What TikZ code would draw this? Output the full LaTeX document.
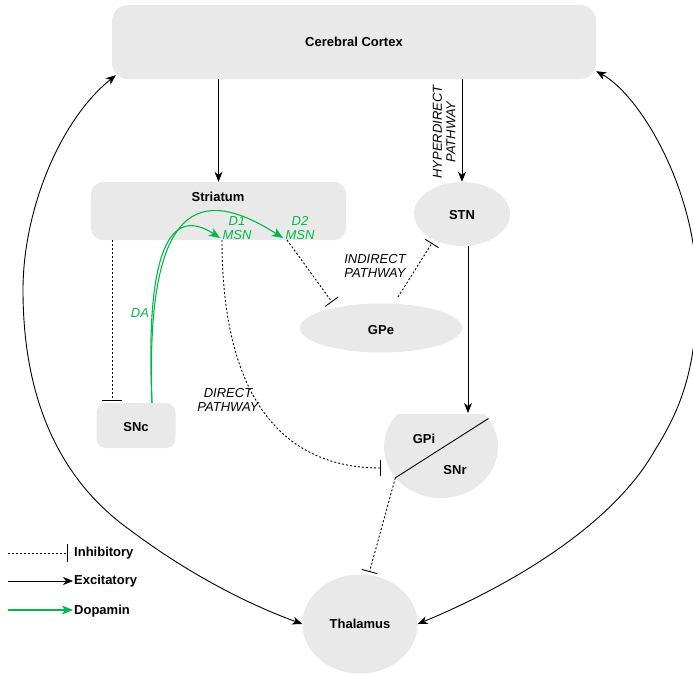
\documentclass[tikz,border=0pt]{standalone}
\usepackage{fontspec}
\setmainfont{Liberation Sans}
\usetikzlibrary{arrows.meta,shapes.geometric}
\definecolor{boxfill}{RGB}{233,233,233}
\definecolor{dagreen}{RGB}{0,184,74}
\begin{document}
\begin{tikzpicture}[x=1pt,y=-1pt,
  every node/.style={font=\fontsize{13}{14}\selectfont},
  area/.style={fill=boxfill, draw=none, inner sep=0pt},
  lbl/.style={font=\fontsize{13}{14}\selectfont\bfseries, inner sep=1pt},
  pathlbl/.style={font=\fontsize{13}{13.5}\selectfont\itshape, align=center, inner sep=1pt},
  greenlbl/.style={pathlbl, text=dagreen},
  tipx/.tip={Stealth[length=10pt,width=8pt,inset=3pt]},
  exc/.style={draw=black, line width=0.9pt, -tipx},
  excboth/.style={draw=black, line width=0.9pt, tipx-tipx},
  inh/.style={draw=black, line width=0.9pt, dash pattern=on 2pt off 2pt, -{Bar[width=16pt]}},
  dop/.style={draw=dagreen, line width=1.1pt, -{Stealth[length=11pt,width=9pt,inset=3pt]}},
  thinline/.style={draw=black, line width=0.9pt}
]
\useasboundingbox (0,0) rectangle (693,675);

% ---- areas ----
\node[area, rounded corners=16pt, minimum width=484pt, minimum height=74pt] (cortex) at (354,42) {};
\node[lbl] (cortexlbl) at (354,42) {Cerebral Cortex};

\node[area, rounded corners=12pt, minimum width=255pt, minimum height=58pt] (striatum) at (218.5,211) {};
\node[lbl] (striatumlbl) at (218,197) {Striatum};

\node[area, ellipse, minimum width=96pt, minimum height=64pt] (stn) at (462,214) {};
\node[lbl] (stnlbl) at (462,215) {STN};

\node[area, ellipse, minimum width=162pt, minimum height=49pt] (gpe) at (381,328) {};
\node[lbl] (gpelbl) at (381,330) {GPe};

\node[area, rounded corners=10pt, minimum width=79pt, minimum height=45pt] (snc) at (136,425.5) {};
\node[lbl] (snclbl) at (136,427) {SNc};

\node[area, ellipse, minimum width=115pt, minimum height=99pt] (thal) at (360,624) {};
\node[lbl] (thallbl) at (360,624) {Thalamus};

% GPi / SNr (ellipse clipped flat at the top)
\node[ellipse, minimum width=114pt, minimum height=102pt, inner sep=0pt, draw=none] (gpi) at (441,447) {};
\begin{scope}
  \clip (380,414) rectangle (505,505);
  \fill[boxfill] (441,447) ellipse [x radius=57pt, y radius=51pt];
\end{scope}
\coordinate (gA) at (gpi.214);
\coordinate (gB) at (gpi.31);
\draw[thinline] (gA) -- (gB);
\node[lbl] (gpilbl) at (424,439) {GPi};
\node[lbl] (snrlbl) at (455,470) {SNr};
\coordinate (gpitop) at (468,413);

% ---- excitatory ----
\draw[exc] (striatum.north |- cortex.south) -- (striatum.north);
\draw[exc] (stn.north |- cortex.south) -- (stn.north);
\draw[exc] (stn.south -| gpitop) -- (gpitop);

\node[pathlbl, rotate=90] (hyperlbl) at (444,132) {HYPERDIRECT\\PATHWAY};

% long loops cortex <-> thalamus
\coordinate (cl) at ([shift={(4,-4)}]cortex.south west);
\coordinate (cr) at ([shift={(0,-8)}]cortex.south east);
\draw[excboth] (cl) .. controls (60,120) and (23,210) .. (23,290)
   .. controls (23,400) and (60,480) .. (130,530)
   .. controls (190,575) and (250,605) .. (thal.west);
\draw[excboth] (cr) .. controls (640,95) and (697,190) .. (697,290)
   .. controls (697,370) and (680,410) .. (655,450)
   .. controls (610,530) and (500,590) .. (thal.east);

% ---- inhibitory ----
\coordinate (stS) at (112,240);
\coordinate (sncT) at (112,401);
\draw[inh, -{Bar[width=20pt]}] (stS) -- (sncT);

\coordinate (d2s) at (287,240);
\coordinate (gpeT) at (332,302);
\draw[inh] (d2s) -- (gpeT);

\coordinate (gpeS) at (398,297);
\coordinate (stnB) at (432,243);
\draw[inh] (gpeS) -- (stnB);

\coordinate (d1s) at (222,240);
\coordinate (gpiin) at (381,468);
\draw[inh] (d1s) .. controls (222,420) and (300,468) .. (gpiin);

\draw[inh, shorten >=3pt] (gA) -- (thal.80);

\node[pathlbl] (indirlbl) at (375,266) {INDIRECT\\PATHWAY};
\node[pathlbl] (dirlbl) at (228,400) {DIRECT\\PATHWAY};

% ---- dopamine ----
\coordinate (das) at (152,403);
\coordinate (d1t) at (220,238);
\coordinate (d2t) at (283,238);
\draw[dop] (das) .. controls (145,250) and (170,205) .. (d1t);
\draw[dop] (das) .. controls (145,200) and (200,185) .. (d2t);
\node[greenlbl] (d1lbl) at (237,228) {D1\\MSN};
\node[greenlbl] (d2lbl) at (300,228) {D2\\MSN};
\node[greenlbl] (dalbl) at (140,313) {DA};

% ---- legend ----
\coordinate (l1a) at (8,553);
\coordinate (l1b) at (68,553);
\draw[inh, -{Bar[width=18pt]}] (l1a) -- (l1b);
\node[lbl, anchor=west] (linh) at (73,553) {Inhibitory};

\coordinate (l2a) at (8,581);
\coordinate (l2b) at (73,581);
\draw[exc] (l2a) -- (l2b);
\node[lbl, anchor=west] (lexc) at (73,581) {Excitatory};

\coordinate (l3a) at (8,610);
\coordinate (l3b) at (73,610);
\draw[dop] (l3a) -- (l3b);
\node[lbl, anchor=west] (ldop) at (73,611) {Dopamin};
\end{tikzpicture}
\end{document}
